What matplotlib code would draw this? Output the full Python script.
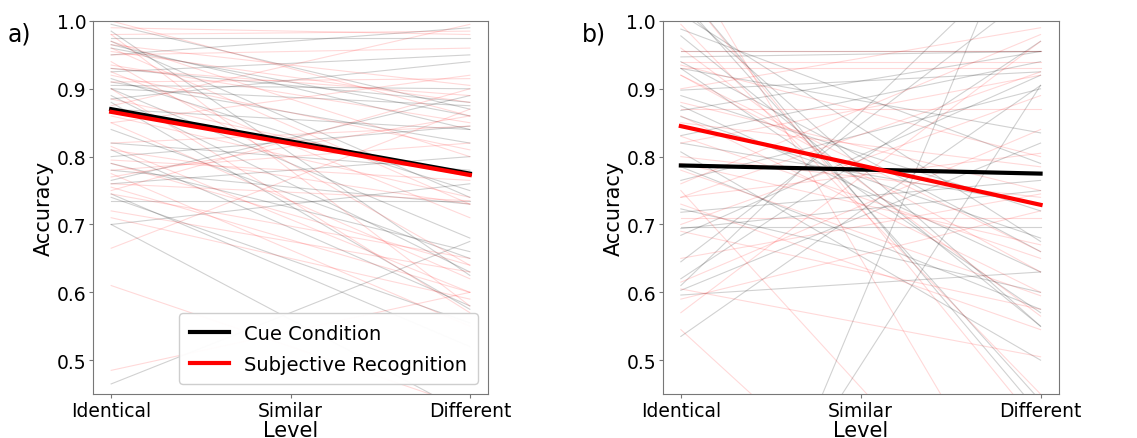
import numpy as np
import matplotlib
matplotlib.use("Agg")
import matplotlib.pyplot as plt

# x positions / labels
levels = ["Identical", "Similar", "Different"]

# ---- panel a) per-subject fitted lines: (value at Identical, value at Different) ----
a_cue_start = [0.995, 0.985, 0.975, 0.97, 0.965, 0.96, 0.93, 0.925, 0.915, 0.91,
               0.905, 0.90, 0.90, 0.89, 0.885, 0.87, 0.84, 0.82, 0.81, 0.80,
               0.79, 0.78, 0.765, 0.76, 0.745, 0.74, 0.735, 0.70, 0.70, 0.465,
               0.95, 0.88]
a_cue_end = [0.87, 0.625, 0.975, 0.74, 0.84, 0.86, 0.88, 0.95, 0.75, 0.82,
             0.90, 0.875, 0.68, 0.63, 0.94, 0.84, 0.65, 0.78, 0.58, 0.845,
             0.66, 0.73, 0.89, 0.80, 0.52, 0.555, 0.735, 0.42, 0.76, 0.675,
             0.99, 0.575]
a_rec_start = [1.00, 0.99, 0.98, 0.97, 0.965, 0.96, 0.955, 0.95, 0.94, 0.935,
               0.93, 0.925, 0.92, 0.91, 0.90, 0.885, 0.875, 0.86, 0.85, 0.82,
               0.815, 0.81, 0.795, 0.79, 0.78, 0.775, 0.77, 0.76, 0.755, 0.75,
               0.745, 0.72, 0.71, 0.665, 0.61, 0.485, 0.98, 0.85]
a_rec_end = [0.86, 0.98, 0.985, 0.80, 0.905, 0.73, 0.88, 0.96, 0.64, 0.85,
             0.89, 0.71, 0.81, 0.915, 0.57, 0.77, 0.995, 0.74, 0.62, 0.845,
             0.60, 0.73, 0.765, 0.64, 0.82, 0.55, 0.86, 0.735, 0.60, 0.90,
             0.65, 0.63, 0.59, 0.87, 0.43, 0.60, 0.58, 0.92]
a_cue_mean = [0.870, 0.775]
a_rec_mean = [0.866, 0.773]

# ---- panel b) ----
b_cue_start = [0.988, 0.978, 0.947, 0.94, 0.93, 0.898, 0.89, 0.875, 0.868, 0.859,
               0.831, 0.807, 0.765, 0.723, 0.718, 0.697, 0.694, 0.684, 0.645, 0.62,
               0.61, 0.603, 0.596, 0.535, 1.05, 1.03, 1.02, 1.01, -0.05, 0.08,
               0.955, 0.93, 0.82, 0.785]
b_cue_end = [0.79, 0.55, 0.955, 0.66, 0.57, 0.925, 0.72, 0.63, 0.955, 0.68,
             0.94, 0.50, 0.90, 0.60, 0.765, 0.697, 0.75, 0.92, 1.05, 0.97,
             1.12, 0.82, 0.63, 0.905, 0.42, 0.44, 0.55, 0.675, 1.22, 0.905,
             0.955, 0.835, 0.73, 0.575]
b_rec_start = [0.995, 0.955, 0.94, 0.935, 0.93, 0.92, 0.90, 0.87, 0.86, 0.83,
               0.82, 0.80, 0.78, 0.76, 0.75, 0.74, 0.73, 0.71, 0.70, 0.69,
               0.615, 0.605, 0.59, 0.57, 0.545, 1.05, 1.10, 0.96, 0.92, 0.85,
               0.65, 0.79, 0.88, 0.74]
b_rec_end = [0.45, 0.955, 0.94, 0.80, 0.93, 0.66, 0.99, 0.87, 0.60, 0.65,
             0.92, 0.74, 0.595, 0.98, 0.17, 0.805, 0.545, 0.71, 0.89, 0.575,
             0.84, 0.505, 0.72, 0.97, 0.06, 0.40, 0.20, 0.565, 0.63, 0.785,
             0.745, 0.67, 0.75, 0.925]
b_cue_mean = [0.787, 0.775]
b_rec_mean = [0.845, 0.729]

plt.rcParams["font.family"] = "DejaVu Sans"

fig = plt.figure(figsize=(11.37, 4.39), dpi=100)
ax_a = fig.add_axes([0.082, 0.100, 0.347, 0.850])
ax_b = fig.add_axes([0.583, 0.100, 0.348, 0.850])

panels = [
    (ax_a, a_cue_start, a_cue_end, a_rec_start, a_rec_end, a_cue_mean, a_rec_mean),
    (ax_b, b_cue_start, b_cue_end, b_rec_start, b_rec_end, b_cue_mean, b_rec_mean),
]

xs = [0, 2]
for ax, cs, ce, rs, re_, cm, rm in panels:
    for s, e in zip(cs, ce):
        ax.plot(xs, [s, e], color="black", alpha=0.18, lw=0.8)
    for s, e in zip(rs, re_):
        ax.plot(xs, [s, e], color="red", alpha=0.15, lw=0.8)
    ax.plot(xs, cm, color="black", lw=3, label="Cue Condition")
    ax.plot(xs, rm, color="red", lw=3, label="Subjective Recognition")

    ax.set_xlim(-0.1, 2.1)
    ax.set_ylim(0.45, 1.0)
    ax.set_xticks([0, 1, 2])
    ax.set_xticklabels(levels)
    ax.set_yticks([0.5, 0.6, 0.7, 0.8, 0.9, 1.0])
    ax.tick_params(labelsize=13.5, color="#777777", length=3, pad=2)
    ax.set_xlabel("Level", fontsize=15, labelpad=0)
    ax.set_ylabel("Accuracy", fontsize=15, labelpad=2)
    for sp in ax.spines.values():
        sp.set_color("#777777")

ax_a.legend(loc="lower right", fontsize=14, handlelength=2.0,
            labelspacing=0.6, borderpad=0.55, framealpha=0.95)

fig.text(0.007, 0.905, "a)", fontsize=17)
fig.text(0.512, 0.905, "b)", fontsize=17)

fig.savefig("out.png", dpi=100)
